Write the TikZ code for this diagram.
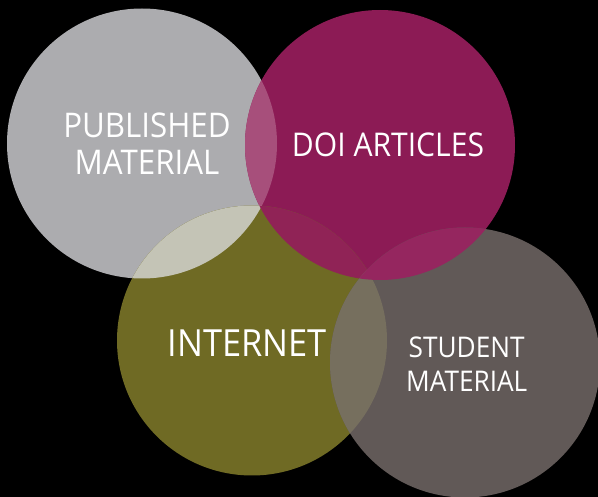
\documentclass[tikz,border=0pt]{standalone}
\usepackage{fontspec}
\setmainfont[FakeStretch=0.92]{Open Sans}
\definecolor{cgray}{HTML}{ACACAF}
\definecolor{cmag}{HTML}{8C1B55}
\definecolor{coli}{HTML}{6F6A24}
\definecolor{cbrn}{HTML}{615957}
\definecolor{cgm}{HTML}{A74F7B}
\definecolor{cgo}{HTML}{C4C4B6}
\definecolor{cmo}{HTML}{902356}
\definecolor{cmb}{HTML}{95265F}
\definecolor{cob}{HTML}{766F5E}
\tikzset{lbl/.style={text=white, align=center, inner sep=0pt}}
\begin{document}
\begin{tikzpicture}[x=1pt,y=-1pt]
\fill[black] (0,0) rectangle (598,497);
\useasboundingbox (0,0) rectangle (598,497);
\coordinate (G) at (142,143.5);
\coordinate (M) at (380,145);
\coordinate (O) at (252,340.5);
\coordinate (B) at (465,362.5);
\def\R{135}
\fill[cgray] (G) circle (\R);
\fill[cmag] (M) circle (\R);
\fill[coli] (O) circle (\R);
\fill[cbrn] (B) circle (\R);
\begin{scope}\clip (G) circle (\R); \fill[cgm] (M) circle (\R); \end{scope}
\begin{scope}\clip (G) circle (\R); \fill[cgo] (O) circle (\R); \end{scope}
\begin{scope}\clip (M) circle (\R); \fill[cmo] (O) circle (\R); \end{scope}
\begin{scope}\clip (O) circle (\R); \fill[cob] (B) circle (\R); \end{scope}
\begin{scope}\clip (M) circle (\R); \fill[cmb] (B) circle (\R); \end{scope}
\node[lbl, font=\fontsize{34}{37.3}\selectfont] (pub) at (147,144) {PUBLISHED\\MATERIAL};
\node[lbl, font=\fontsize{32.7}{36}\selectfont] (doi) at (388,145) {DOI ARTICLES};
\node[lbl, font=\fontsize{37.4}{40}\selectfont] (net) at (247.3,343.3) {INTERNET};
\node[lbl, font=\fontsize{28.5}{34}\selectfont] (stu) at (466.7,363.7) {STUDENT\\MATERIAL};
\end{tikzpicture}
\end{document}
